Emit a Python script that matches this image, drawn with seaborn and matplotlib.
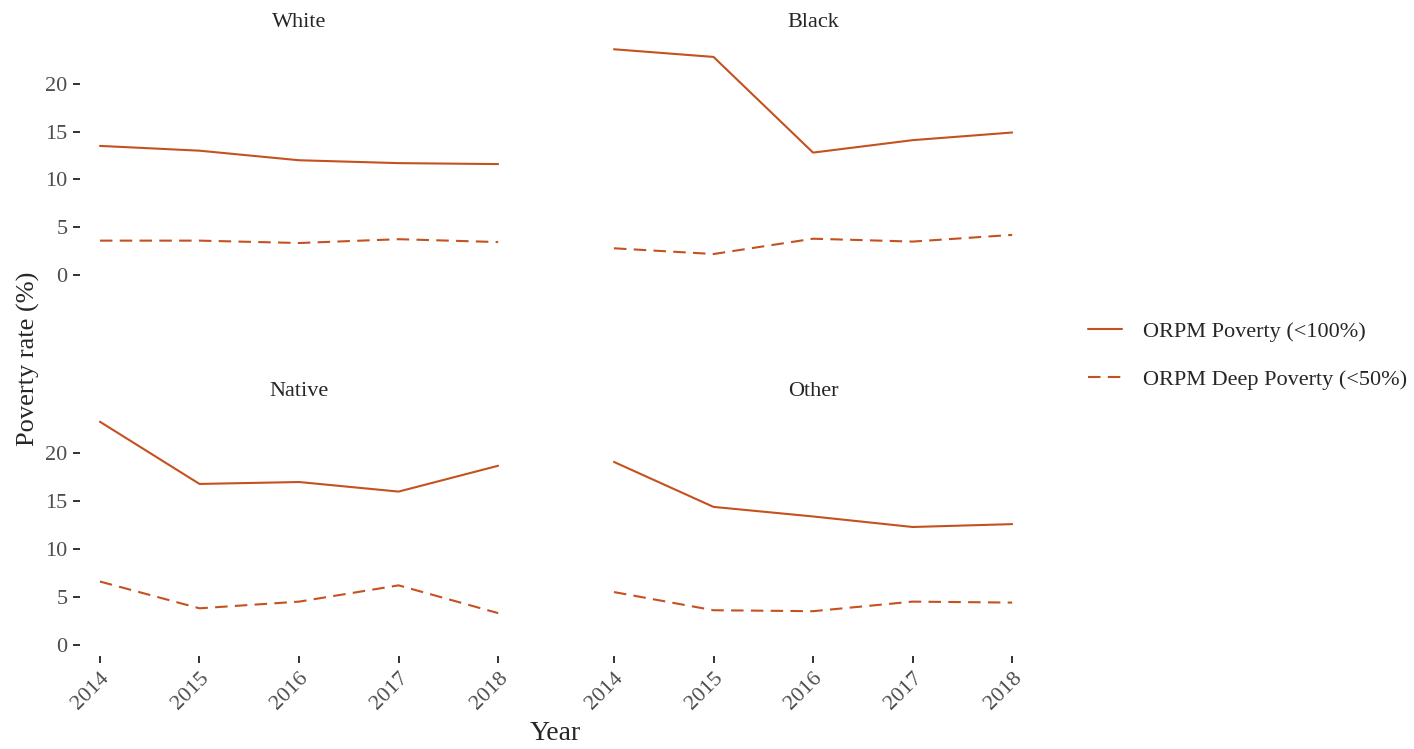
import pandas as pd
import matplotlib.pyplot as plt
import seaborn as sns

years = [2014, 2015, 2016, 2017, 2018]
groups = ["White", "Black", "Native", "Other"]
measures = ["ORPM Poverty (<100%)", "ORPM Deep Poverty (<50%)"]

# poverty rates (%)
white_poverty = [13.5, 13.0, 12.0, 11.7, 11.6]
white_deep = [3.6, 3.6, 3.35, 3.75, 3.45]
black_poverty = [23.6, 22.8, 12.8, 14.1, 14.9]
black_deep = [2.8, 2.2, 3.8, 3.5, 4.2]
native_poverty = [23.3, 16.8, 17.0, 16.0, 18.7]
native_deep = [6.6, 3.8, 4.5, 6.2, 3.3]
other_poverty = [19.1, 14.4, 13.4, 12.3, 12.6]
other_deep = [5.5, 3.6, 3.5, 4.5, 4.4]

series = {
    "White": (white_poverty, white_deep),
    "Black": (black_poverty, black_deep),
    "Native": (native_poverty, native_deep),
    "Other": (other_poverty, other_deep),
}

rows = []
for grp in groups:
    for meas, vals in zip(measures, series[grp]):
        for yr, v in zip(years, vals):
            rows.append({"group": grp, "measure": meas, "Year": yr, "rate": v})
df = pd.DataFrame(rows)

line_color = "#C4511F"

sns.set_theme(style="white")
plt.rcParams["font.family"] = ["Liberation Serif", "DejaVu Serif"]

g = sns.relplot(
    data=df, x="Year", y="rate", col="group", col_order=groups, col_wrap=2,
    kind="line", hue="measure", style="measure", hue_order=measures,
    style_order=measures, palette=[line_color, line_color],
    dashes={measures[0]: "", measures[1]: (6, 3.5)},
    linewidth=1.5, height=3, aspect=1.5, facet_kws={"despine": False},
)

g.figure.set_size_inches(14.14, 7.49)
g.figure.subplots_adjust(left=0.0566, right=0.7299, bottom=0.1242, top=0.9493,
                         wspace=0.1735, hspace=0.488)

g.set_titles("{col_name}", size=16, pad=8)
g.set_axis_labels("", "")
g.set(xlim=(2013.8, 2018.2), ylim=(-1.18, 24.78),
      xticks=years, yticks=[0, 5, 10, 15, 20])

for i, ax in enumerate(g.axes.flat):
    for sp in ax.spines.values():
        sp.set_visible(False)
    ax.tick_params(labelsize=16, labelcolor="#4D4D4D", color="#333333",
                   length=5, width=1.4, pad=4)
    ax.tick_params(axis="both", which="both", bottom=(i >= 2), left=(i % 2 == 0),
                   labelbottom=(i >= 2), labelleft=(i % 2 == 0))
    if i >= 2:
        ax.set_xticks(years)
        ax.set_xticklabels([str(y) for y in years], rotation=45, ha="right",
                           va="top", rotation_mode="anchor")

g.figure.text(0.0198, 0.521, "Poverty rate (%)", rotation=90, va="center",
              ha="center", size=19)
g.figure.text(0.393, 0.021, "Year", va="center", ha="center", size=20)

sns.move_legend(g, "center left", bbox_to_anchor=(0.755, 0.525), title=None,
                frameon=False, fontsize=16, labelspacing=1.25,
                handlelength=1.55, handletextpad=0.95)

g.figure.savefig("out.png", dpi=100)
